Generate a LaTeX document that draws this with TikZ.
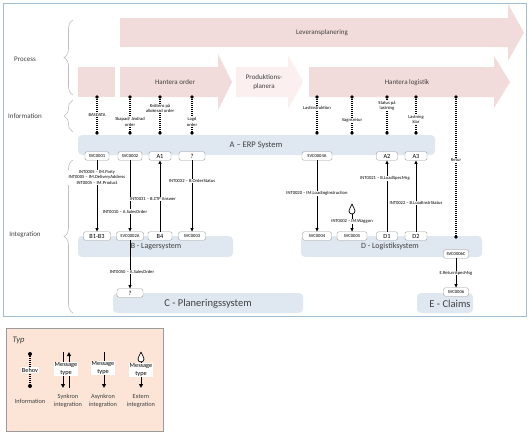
\documentclass[tikz,border=0pt]{standalone}
\usepackage{fontspec}
\setmainfont{Carlito}
\usetikzlibrary{arrows.meta,decorations.pathreplacing}
\definecolor{procpink}{HTML}{F2DCDB}
\definecolor{palepink}{HTML}{FBF0EF}
\definecolor{sysblue}{HTML}{DFE7F0}
\definecolor{framecol}{HTML}{A3BED3}
\definecolor{nodegray}{HTML}{9A9A9A}
\definecolor{legendfill}{HTML}{FCE4D6}
\definecolor{txtgray}{HTML}{404040}
\definecolor{bracegray}{HTML}{BFBFBF}
\newcommand\fsz[2]{\fontsize{#1}{#2}\selectfont}
\begin{document}
\begin{tikzpicture}[x=1pt,y=-1pt,
  svc/.style={draw=nodegray,fill=white,rounded corners=2pt,minimum width=25,minimum height=8.5,inner sep=0.5,font=\fsz{4.6}{5}},
  svcb/.style={svc,font=\fsz{6.3}{7}},
  conn/.style={-{Triangle[length=3.5pt,width=3.2pt]},line width=0.7pt},
  lbl/.style={fill=white,inner sep=0.6,align=center,font=\fsz{4.6}{5.2}},
  info/.style={dash pattern=on 1pt off 1pt,line width=1.2pt},
  sysbox/.style={fill=sysblue,rounded corners=4pt},
  systxt/.style={text=txtgray},
  proc/.style={fill=procpink},
  proctxt/.style={text=txtgray,font=\fsz{7}{8.5},align=center},
  side/.style={text=txtgray,font=\fsz{7}{8}},
  brc/.style={draw=bracegray,line width=0.6pt,decorate,decoration={brace,amplitude=9pt}},
  leg/.style={text=txtgray,font=\fsz{6.3}{8.5},align=center},
  legmsg/.style={fill=white,inner sep=0.8,align=center,font=\fsz{6.3}{7.5}},
  legconn/.style={-{Triangle[length=4pt,width=3.8pt]},line width=0.9pt},
  dropshape/.pic={\draw[line width=0.7pt,fill=white] (0,-5) .. controls (-1,-2) and (-3,0) .. (-3,2) arc[start angle=180,end angle=0,radius=3] .. controls (3,0) and (1,-2) .. (0,-5);}
]
\useasboundingbox (0,0) rectangle (532,437);
% outer frame
\draw[framecol,line width=0.8pt] (3,3) rectangle (526,316);

% process arrows
\fill[proc] (120,18) -- (508,18) -- (508,4) -- (524,32.5) -- (508,61) -- (508,47) -- (120,47) -- cycle;
\fill[proc] (78,67) rectangle (115,97);
\fill[proc] (120,67) -- (218,67) -- (218,54) -- (232,82) -- (218,110) -- (218,97) -- (120,97) -- cycle;
\fill[palepink] (236,67) -- (288,67) -- (288,55) -- (303,82) -- (288,109) -- (288,97) -- (236,97) -- cycle;
\fill[proc] (309,67) -- (494,67) -- (494,56) -- (510,82) -- (494,108) -- (494,97) -- (309,97) -- cycle;
\node[proctxt] (tlev) at (322,33) {Leveransplanering};
\node[proctxt] (tord) at (175,82) {Hantera order};
\node[proctxt] (tprod) at (264,82) {Produktions-\\planera};
\node[proctxt] (tlog) at (407,83) {Hantera logistik};

% braces
\draw[brc] (73,95) -- (73,20);
\draw[brc] (73,132) -- (73,100);
\draw[brc] (73,313) -- (73,160);
\node[side] (sproc) at (25,59) {Process};
\node[side] (sinfo) at (25,116) {Information};
\node[side] (sint) at (25,235) {Integration};

% system boxes
\fill[sysbox] (78,135) rectangle (435,155);
\fill[sysbox] (78,236) rectangle (233,257);
\fill[sysbox] (301,236) rectangle (482,257);
\fill[sysbox] (113,293) rectangle (303,313);
\fill[sysbox] (417,293) rectangle (473,313);
\node[systxt,font=\fsz{8.5}{10}] (terp) at (256,145) {A – ERP System};
\node[systxt,font=\fsz{8}{10}] (tlag) at (156,247) {B - Lagersystem};
\node[systxt,font=\fsz{8}{10}] (tlogs) at (390,246) {D - Logistiksystem};
\node[systxt,font=\fsz{10.5}{12}] (tplan) at (208,304) {C - Planeringssystem};
\node[systxt,font=\fsz{10.5}{12}] (tclaim) at (450,304) {E - Claims};

% information lines
\foreach \n/\x/\b in {i1/97/133, i2/130/133, i3/160/133, i4/192/133, i5/317/133, i6/352/133, i7/387/133, i8/416/133, i9/456/237}{
  \coordinate (\n t) at (\x,97);
  \coordinate (\n b) at (\x,\b);
}
\draw[info] (i1t) -- node[lbl,pos=0.51] {BASDATA} (i1b);
\draw[info] (i2t) -- node[lbl,pos=0.69] {Skapad/ ändrad\\order} (i2b);
\draw[info] (i3t) -- node[lbl,pos=0.32] {Kvittens på\\allokerad order} (i3b);
\draw[info] (i4t) -- node[lbl,pos=0.69] {Lagd\\order} (i4b);
\draw[info] (i5t) -- node[lbl,pos=0.30] {Lastinstruktion} (i5b);
\draw[info] (i6t) -- node[lbl,pos=0.65] {Vagnsretur} (i6b);
\draw[info] (i7t) -- node[lbl,pos=0.24] {Status på\\lastning} (i7b);
\draw[info] (i8t) -- node[lbl,pos=0.62] {Lastning\\klar} (i8b);
\draw[info] (i9t) -- node[lbl,pos=0.45] {Retur} (i9b);
\foreach \n in {i1,i2,i3,i4,i5,i6,i7,i8,i9}{
  \fill (\n t) circle (1.8);
  \fill (\n b) circle (1.8);
}

% service nodes
\node[svc,minimum width=24] (svc1) at (97,156) {SVC0001};
\node[svc,minimum width=24] (svc2) at (130,156) {SVC0002};
\node[svcb,minimum width=22] (a1) at (160,156) {A1};
\node[svcb,minimum width=26] (q1) at (192,156) {?};
\node[svcb,minimum width=27] (b13) at (97,236) {B1-B3};
\node[svc,minimum width=27] (svc2a) at (130,236) {SVC0002A};
\node[svcb,minimum width=24] (b4) at (160,236) {B4};
\node[svc,minimum width=27] (svc3) at (192,236) {SVC0003};
\node[svcb,minimum width=26] (q2) at (130,293) {?};
\node[svc,minimum width=30] (svc4a) at (317,156) {SVC0004A};
\node[svcb,minimum width=21] (a2) at (387,156) {A2};
\node[svcb,minimum width=22] (a3) at (416,156) {A3};
\node[svc,minimum width=29] (svc4) at (317,236) {SVC0004};
\node[svc,minimum width=30] (svc5) at (352,236) {SVC0005};
\node[svcb,minimum width=21] (d1) at (387,236) {D1};
\node[svcb,minimum width=22] (d2) at (416,236) {D2};
\node[svc,minimum width=25] (svc6c) at (456,254) {SVC0006C};
\node[svc,minimum width=25] (svc6) at (456,292) {SVC0006};

% connectors
\draw[conn] (svc1) -- node[lbl,pos=0.24] {INT0005 – IM.Party\\INT0005 – IM.DeliveryAddress\\INT0005 – IM.Product} (b13);
\draw[conn] (svc2) -- node[lbl,pos=0.72,xshift=-5] {INT0010 – A.SalesOrder} (svc2a);
\draw[conn] (b4) -- node[lbl,pos=0.46,xshift=-7] {INT0031 – B.CTP Answer} (a1);
\draw[conn] (q1) -- node[lbl,pos=0.29] {INT0032 – B.OrderStatus} (svc3);
\draw[conn] (svc2a) -- node[lbl,pos=0.65,xshift=2] {INT0050 – A.SalesOrder} (q2);
\draw[conn] (svc4a) -- node[lbl,pos=0.46] {INT0020 – IM.LoadingInstruction} (svc4);
\draw[conn] (d1) -- node[lbl,pos=0.75,xshift=-2] {INT0021 – B.LoadSpecMsg} (a2);
\draw[conn] (d2) -- node[lbl,pos=0.40] {INT0022 – B.LoadInstrStatus} (a3);
\draw[conn] (svc6c) -- node[lbl,pos=0.5] {E.ReturnSpecMsg} (svc6);
\pic at (352,209) {dropshape};
\coordinate (dropb) at (352,214);
\draw[conn] (dropb) -- node[lbl,pos=0.4] {INT0002 – IM.Waggon} (svc5);

% legend
\draw[draw=nodegray,fill=legendfill,line width=0.6pt] (6,328) rectangle (163,431);
\node[text=txtgray,font=\fsz{8.5}{9}\itshape,anchor=west] (typ) at (9,340) {Typ};
\coordinate (li1) at (30,354);
\coordinate (li2) at (30,386);
\draw[info] (li1) -- node[legmsg] {Behov} (li2);
\fill (li1) circle (2);
\fill (li2) circle (2);
\node[leg] (linfo) at (30,401) {Information};
\coordinate (s1t) at (63,352);
\coordinate (s1b) at (63,388);
\coordinate (s2t) at (69,352);
\coordinate (s2b) at (69,388);
\draw[legconn] (s1t) -- (s1b);
\draw[legconn] (s2b) -- (s2t);
\node[legmsg] (smsg) at (66,369) {Message\\type};
\node[leg] (lsyn) at (68,401) {Synkron\\integration};
\coordinate (a1t) at (104,352);
\coordinate (a1b) at (104,388);
\draw[legconn] (a1t) -- (a1b);
\node[legmsg] (amsg) at (103,368) {Message\\type};
\node[leg] (lasyn) at (103,401) {Asynkron\\integration};
\pic at (141,357) {dropshape};
\coordinate (e1t) at (141,362);
\coordinate (e1b) at (141,388);
\draw[legconn] (e1t) -- (e1b);
\node[legmsg] (emsg) at (141,370) {Message\\type};
\node[leg] (lext) at (141,401) {Extern\\integration};
\end{tikzpicture}
\end{document}
